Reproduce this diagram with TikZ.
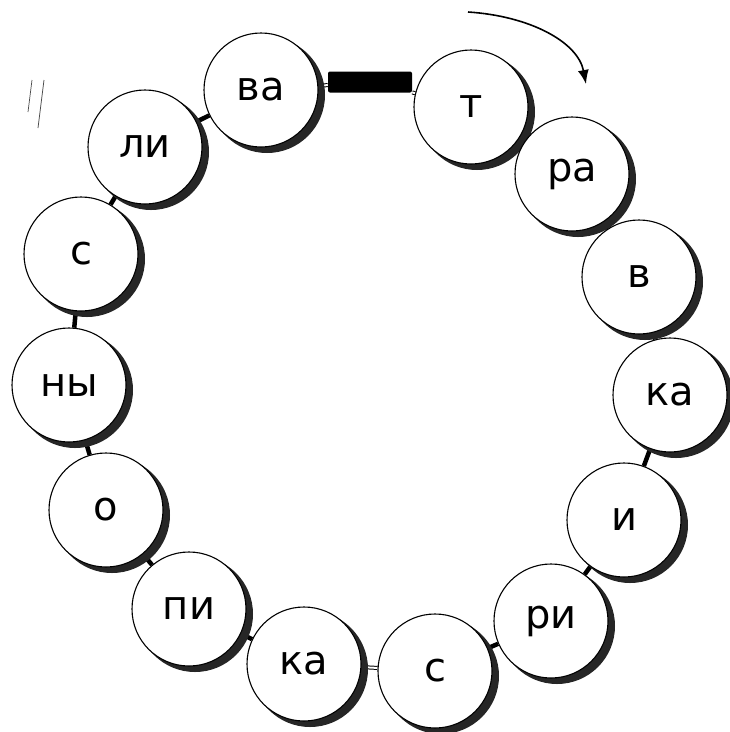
\documentclass[tikz,border=0pt]{standalone}
\usepackage{fontspec}
\setmainfont{DejaVu Sans}
\usepackage{tikz}
\usetikzlibrary{backgrounds, arrows.meta}

\tikzset{
  bead/.style={circle, draw, line width=1.1pt, fill=white, minimum size=114pt,
    inner sep=0pt, font=\fontsize{40}{48}\selectfont},
  beadshadow/.style={fill=black!85},
  thread/.style={line width=4.5pt},
  link/.style={line width=1pt, double=white, double distance=2pt}
}

\begin{document}
\begin{tikzpicture}[>=latex, x=1pt, y=-1pt]
                \useasboundingbox (0,0) rectangle (730,732);

                % 1. Бусины с тенью
                \foreach \n/\x/\y/\t in {1/261/90/ва, 2/471/107/т, 3/572/174/ра,
                    4/639/277/в, 5/670/395/ка, 6/624/520/и, 7/551/621/ри,
                    8/435/671/с, 9/304/664/ка, 10/189/609/пи, 11/106/510/о,
                    12/69/385/ны, 13/81/254/с, 14/145/147/ли} {
                    \fill[beadshadow] (\x+6,\y+5) circle (58pt);
                    \node[bead] (b\n) at (\x,\y) {\raisebox{-4pt}{\t}};
                }

                % 2. Застёжка
                \node[fill=black, rounded corners=2pt, minimum width=84pt,
                    minimum height=21pt, inner sep=0pt] (clasp) at (370,82) {};

                % 3. Нить
                \begin{scope}[on background layer]
                    \foreach \a/\b in {2/3, 3/4, 4/5, 5/6, 6/7, 7/8, 9/10,
                        10/11, 11/12, 12/13, 13/14, 14/1} {
                        \draw[thread] (b\a) -- (b\b);
                    }
                    \draw[link] (b8) -- (b9);
                    \draw[link] (b1) -- (clasp);
                    \draw[link] (clasp) -- (b2);
                \end{scope}

                % 4. Стрелка
                \coordinate (s) at (468,12);
                \coordinate (e) at (586,84);
                \draw[->, line width=1.6pt, >={Latex[length=14pt, width=11pt]}]
                    (s) .. controls (530,16) and (578,42) .. (e);

                % 5. Пометка
                \draw[black!70, line width=0.7pt] (32,80) -- (28,112);
                \draw[black!70, line width=0.8pt] (44,80) -- (38,128);
            \end{tikzpicture}
\end{document}
